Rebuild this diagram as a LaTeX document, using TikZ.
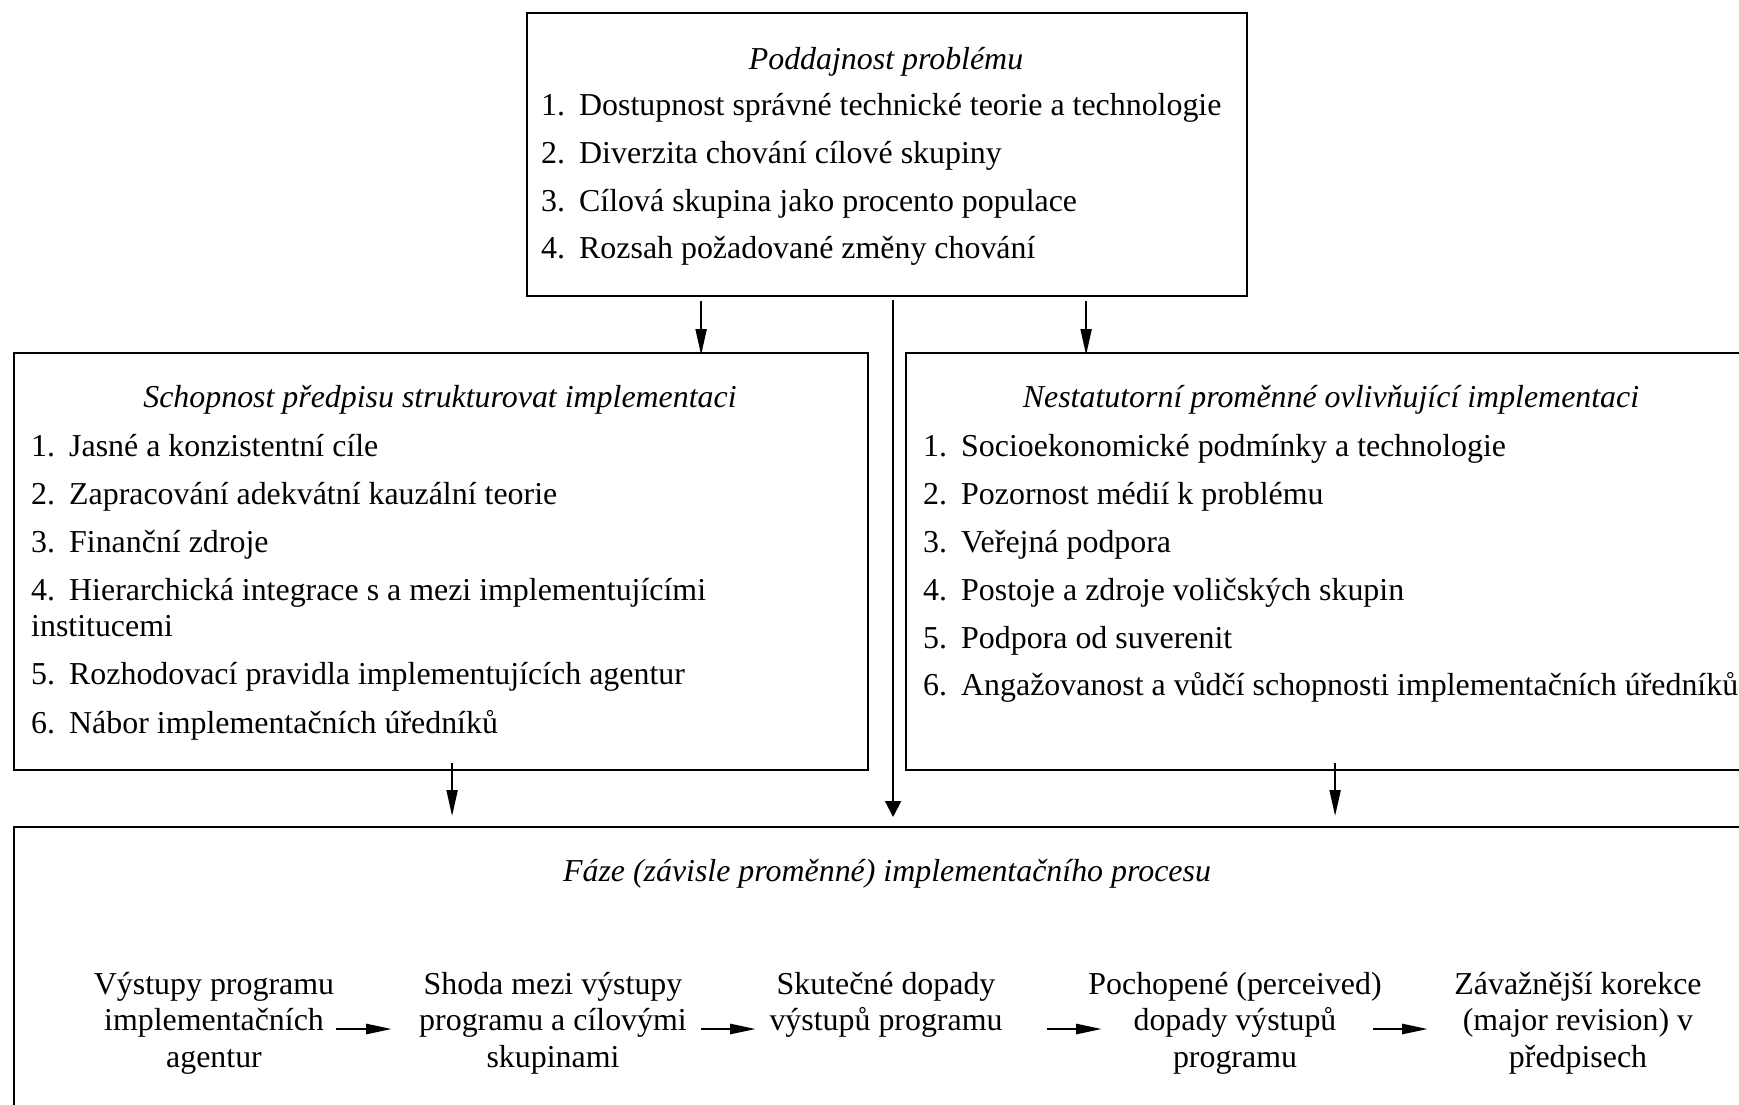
\documentclass[tikz,border=0pt]{standalone}
\usepackage{fontspec}
\setmainfont{Liberation Serif}
\usetikzlibrary{arrows.meta,calc}
\newcommand\itm[2]{\makebox[38pt][l]{#1}#2}
\begin{document}
\begin{tikzpicture}[x=1pt,y=-1pt,
  box/.style={draw, line width=2.2pt, inner sep=0pt, anchor=north west},
  txt/.style={inner sep=0pt, anchor=base west, font=\fontsize{31.9}{36.6}\selectfont},
  ttl/.style={inner sep=0pt, anchor=base, font=\fontsize{31.9}{36.6}\selectfont\itshape},
  rowtxt/.style={inner sep=0pt, anchor=base, font=\fontsize{31.9}{36.6}\selectfont},
  varr/.style={line width=2pt, -{Triangle[length=26pt,width=11pt]}},
  marr/.style={line width=2pt, -{Triangle[length=16pt,width=16pt]}},
  harr/.style={line width=2.7pt, -{Triangle[length=26pt,width=10pt]}}]
\useasboundingbox (0,0) rectangle (1739,1104);
\clip (0,0) rectangle (1739,1104);
% boxes
\node[box, minimum width=720pt, minimum height=283pt] (top) at (526,12) {};
\node[box, minimum width=854pt, minimum height=417pt] (lbox) at (13,352) {};
\node[box, minimum width=900pt, minimum height=417pt] (rbox) at (905,352) {};
\node[box, minimum width=1793pt, minimum height=330pt] (bot) at (13,826) {};
% top box text
\node[ttl] (tt) at (886,69) {Poddajnost problému};
\node[txt] (t1) at (541,115) {\itm{1.}{Dostupnost správné technické teorie a technologie}};
\node[txt] (t2) at (541,163) {\itm{2.}{Diverzita chování cílové skupiny}};
\node[txt] (t3) at (541,211) {\itm{3.}{Cílová skupina jako procento populace}};
\node[txt] (t4) at (541,258) {\itm{4.}{Rozsah požadované změny chování}};
% left box text
\node[ttl] (lt) at (440,407) {Schopnost předpisu strukturovat implementaci};
\node[txt] (l1) at (31,456) {\itm{1.}{Jasné a konzistentní cíle}};
\node[txt] (l2) at (31,504) {\itm{2.}{Zapracování adekvátní kauzální teorie}};
\node[txt] (l3) at (31,552) {\itm{3.}{Finanční zdroje}};
\node[txt] (l4) at (31,600) {\begin{tabular}[t]{@{}l@{}}\itm{4.}{Hierarchická integrace s a mezi implementujícími}\\institucemi\end{tabular}};
\node[txt] (l5) at (31,684) {\itm{5.}{Rozhodovací pravidla implementujících agentur}};
\node[txt] (l6) at (31,733) {\itm{6.}{Nábor implementačních úředníků}};
% right box text
\node[ttl] (rt) at (1331,407) {Nestatutorní proměnné ovlivňující implementaci};
\node[txt] (q1) at (923,456) {\itm{1.}{Socioekonomické podmínky a technologie}};
\node[txt] (q2) at (923,504) {\itm{2.}{Pozornost médií k problému}};
\node[txt] (q3) at (923,552) {\itm{3.}{Veřejná podpora}};
\node[txt] (q4) at (923,600) {\itm{4.}{Postoje a zdroje voličských skupin}};
\node[txt] (q5) at (923,648) {\itm{5.}{Podpora od suverenit}};
\node[txt] (q6) at (923,695) {\itm{6.}{Angažovanost a vůdčí schopnosti implementačních úředníků}};
% bottom box
\node[ttl] (bt) at (887,881) {Fáze (závisle proměnné) implementačního procesu};
\node[rowtxt] (r1) at (214,994) {\begin{tabular}[t]{@{}c@{}}Výstupy programu\\implementačních\\agentur\end{tabular}};
\node[rowtxt] (r2) at (553,994) {\begin{tabular}[t]{@{}c@{}}Shoda mezi výstupy\\programu a cílovými\\skupinami\end{tabular}};
\node[rowtxt] (r3) at (886,994) {\begin{tabular}[t]{@{}c@{}}Skutečné dopady\\výstupů programu\end{tabular}};
\node[rowtxt] (r4) at (1235,994) {\begin{tabular}[t]{@{}c@{}}Pochopené (perceived)\\dopady výstupů\\programu\end{tabular}};
\node[rowtxt] (r5) at (1578,994) {\begin{tabular}[t]{@{}c@{}}Závažnější korekce\\(major revision) v\\předpisech\end{tabular}};
\coordinate (ay) at (0,1029);
% vertical connectors
\draw[varr, shorten >=-3pt] ($(top.south)+(-186,4)$) coordinate (c1) -- (c1 |- lbox.north);
\draw[marr, shorten >=9pt] ($(top.south)+(6,3)$) coordinate (c2) -- (c2 |- bot.north);
\draw[varr, shorten >=-3pt] ($(top.south)+(199,4)$) coordinate (c3) -- (c3 |- rbox.north);
\draw[varr, shorten >=10pt] ($(lbox.south)+(11,-8)$) coordinate (c4) -- (c4 |- bot.north);
\draw[varr, shorten >=10pt] ($(rbox.south)+(-21,-8)$) coordinate (c5) -- (c5 |- bot.north);
% horizontal connectors
\draw[harr] ($(r1.base |- ay)+(122,0)$) -- ($(r2.base |- ay)+(-161,0)$);
\draw[harr] ($(r2.base |- ay)+(148,0)$) -- ($(r3.base |- ay)+(-130,0)$);
\draw[harr] ($(r3.base |- ay)+(161,0)$) -- ($(r4.base |- ay)+(-133,0)$);
\draw[harr] ($(r4.base |- ay)+(138,0)$) -- ($(r5.base |- ay)+(-150,0)$);
\end{tikzpicture}
\end{document}
